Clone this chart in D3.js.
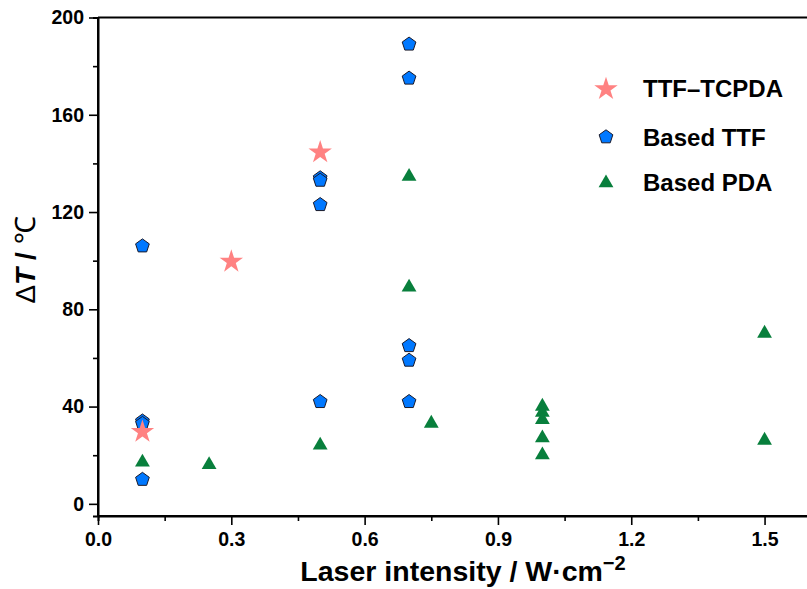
<!DOCTYPE html>
<html><head><meta charset="utf-8">
<script src="https://cdn.jsdelivr.net/npm/d3@7"></script>
<style>body{margin:0;background:#fff}svg{display:block;font-family:"Liberation Sans",Arial,sans-serif}</style>
</head><body><div id="c"></div>
<script>
const seriesNames = ["TTF\u2013TCPDA", "Based TTF", "Based PDA"];
const starX = [0.1, 0.3, 0.5];
const starY = [30, 100, 145];
const ttfX = [0.1, 0.1, 0.1, 0.1, 0.5, 0.5, 0.5, 0.5, 0.7, 0.7, 0.7, 0.7, 0.7];
const ttfY = [106, 34, 33, 10, 134, 133, 123, 42, 189, 175, 65, 59, 42];
const pdaX = [0.1, 0.25, 0.5, 0.7, 0.7, 0.75, 1.0, 1.0, 1.0, 1.0, 1.0, 1.5, 1.5];
const pdaY = [17.5, 16.5, 24.5, 135, 89.5, 33.5, 40.5, 38, 35, 27.5, 20.5, 70.5, 26.5];
const xTicks = [0.0, 0.3, 0.6, 0.9, 1.2, 1.5];
const yTicks = [0, 40, 80, 120, 160, 200];

const W = 807, H = 589;
const svg = d3.select("#c").append("svg").attr("width", W).attr("height", H);
const x = d3.scaleLinear().domain([0, 1.6]).range([98, 809]);
const y = d3.scaleLinear().domain([-5, 200]).range([516, 17.5]);

svg.append("line").attr("x1", x(0)).attr("x2", W).attr("y1", y(200)).attr("y2", y(200))
  .attr("stroke", "#000").attr("stroke-width", 2);

const xMinor = d3.range(0.15, 1.6, 0.3);
const yMinor = d3.range(20, 200, 40);
const gx = svg.append("g").attr("transform", `translate(0,${y(-5)})`);
gx.call(d3.axisBottom(x).tickValues(xTicks).tickFormat(d3.format(".1f")).tickSize(9).tickPadding(7));
gx.append("g").call(d3.axisBottom(x).tickValues(xMinor).tickFormat("").tickSize(5));
const gy = svg.append("g").attr("transform", `translate(${x(0)},0)`);
gy.call(d3.axisLeft(y).tickValues(yTicks).tickFormat(d3.format("d")).tickSize(9).tickPadding(5));
gy.append("g").call(d3.axisLeft(y).tickValues(yMinor).tickFormat("").tickSize(5));
svg.selectAll(".domain").attr("stroke", "#000").attr("stroke-width", 2);
svg.selectAll(".tick line").attr("stroke", "#000").attr("stroke-width", 1.6);
svg.selectAll(".tick text").attr("font-size", 19.5).attr("font-weight", "bold").attr("fill", "#000")
  .attr("font-family", '"Liberation Sans",Arial,sans-serif');
gy.select(".domain").attr("d", `M0,${y(-5)}V${y(200)}`);
gx.select(".domain").attr("d", `M${x(0)},0H${W}`);

const starSym = d3.symbol().type(d3.symbolStar).size(170);
const pentPath = (r) => {
  const pts = d3.range(5).map(i => {
    const a = -Math.PI / 2 + i * 2 * Math.PI / 5;
    return [r * Math.cos(a), r * Math.sin(a)];
  });
  return "M" + pts.map(p => p.join(",")).join("L") + "Z";
};
const triSym = d3.symbol().type(d3.symbolTriangle).size(95);

const data = (xs, ys) => xs.map((v, i) => ({x: v, y: ys[i]}));
const plot = svg.append("g");
plot.selectAll(".p").data(data(ttfX, ttfY)).join("path")
  .attr("d", pentPath(7.2)).attr("transform", d => `translate(${x(d.x)},${y(d.y)})`)
  .attr("fill", "#0078FF").attr("stroke", "#1a1a2a").attr("stroke-width", 1);
plot.selectAll(".t").data(data(pdaX, pdaY)).join("path")
  .attr("d", triSym).attr("transform", d => `translate(${x(d.x)},${y(d.y)+1})`)
  .attr("fill", "#087F3C");
plot.selectAll(".s").data(data(starX, starY)).join("path")
  .attr("d", starSym).attr("transform", d => `translate(${x(d.x)},${y(d.y)+1})`)
  .attr("fill", "#FF8282");

const lg = svg.append("g");
const lgY = [88, 137, 182];
lg.append("path").attr("d", starSym).attr("transform", `translate(606,${lgY[0]+1})`).attr("fill", "#FF8282");
lg.append("path").attr("d", pentPath(7.2)).attr("transform", `translate(606,${lgY[1]})`)
  .attr("fill", "#0078FF").attr("stroke", "#1a1a2a").attr("stroke-width", 1);
lg.append("path").attr("d", triSym).attr("transform", `translate(606,${lgY[2]+1})`).attr("fill", "#087F3C");
seriesNames.forEach((n, i) => {
  lg.append("text").attr("x", 643).attr("y", lgY[i]).attr("dy", "0.36em")
    .attr("font-size", 24).attr("font-weight", "bold").text(n);
});

const xt = svg.append("text").attr("x", 463).attr("y", 581).attr("text-anchor", "middle")
  .attr("font-size", 28.5).attr("font-weight", "bold");
xt.append("tspan").text("Laser intensity / W\u00B7cm");
xt.append("tspan").attr("dy", -11).attr("font-size", 20).text("\u22122");

const yt = svg.append("text").attr("transform", "translate(35,260) rotate(-90)")
  .attr("text-anchor", "middle").attr("font-size", 28);
yt.append("tspan").text("\u0394");
yt.append("tspan").attr("font-style", "italic").attr("font-weight", "bold").text("T");
yt.append("tspan").attr("font-weight", "bold").text(" / ");
yt.append("tspan").text("\u2103");
</script></body></html>
